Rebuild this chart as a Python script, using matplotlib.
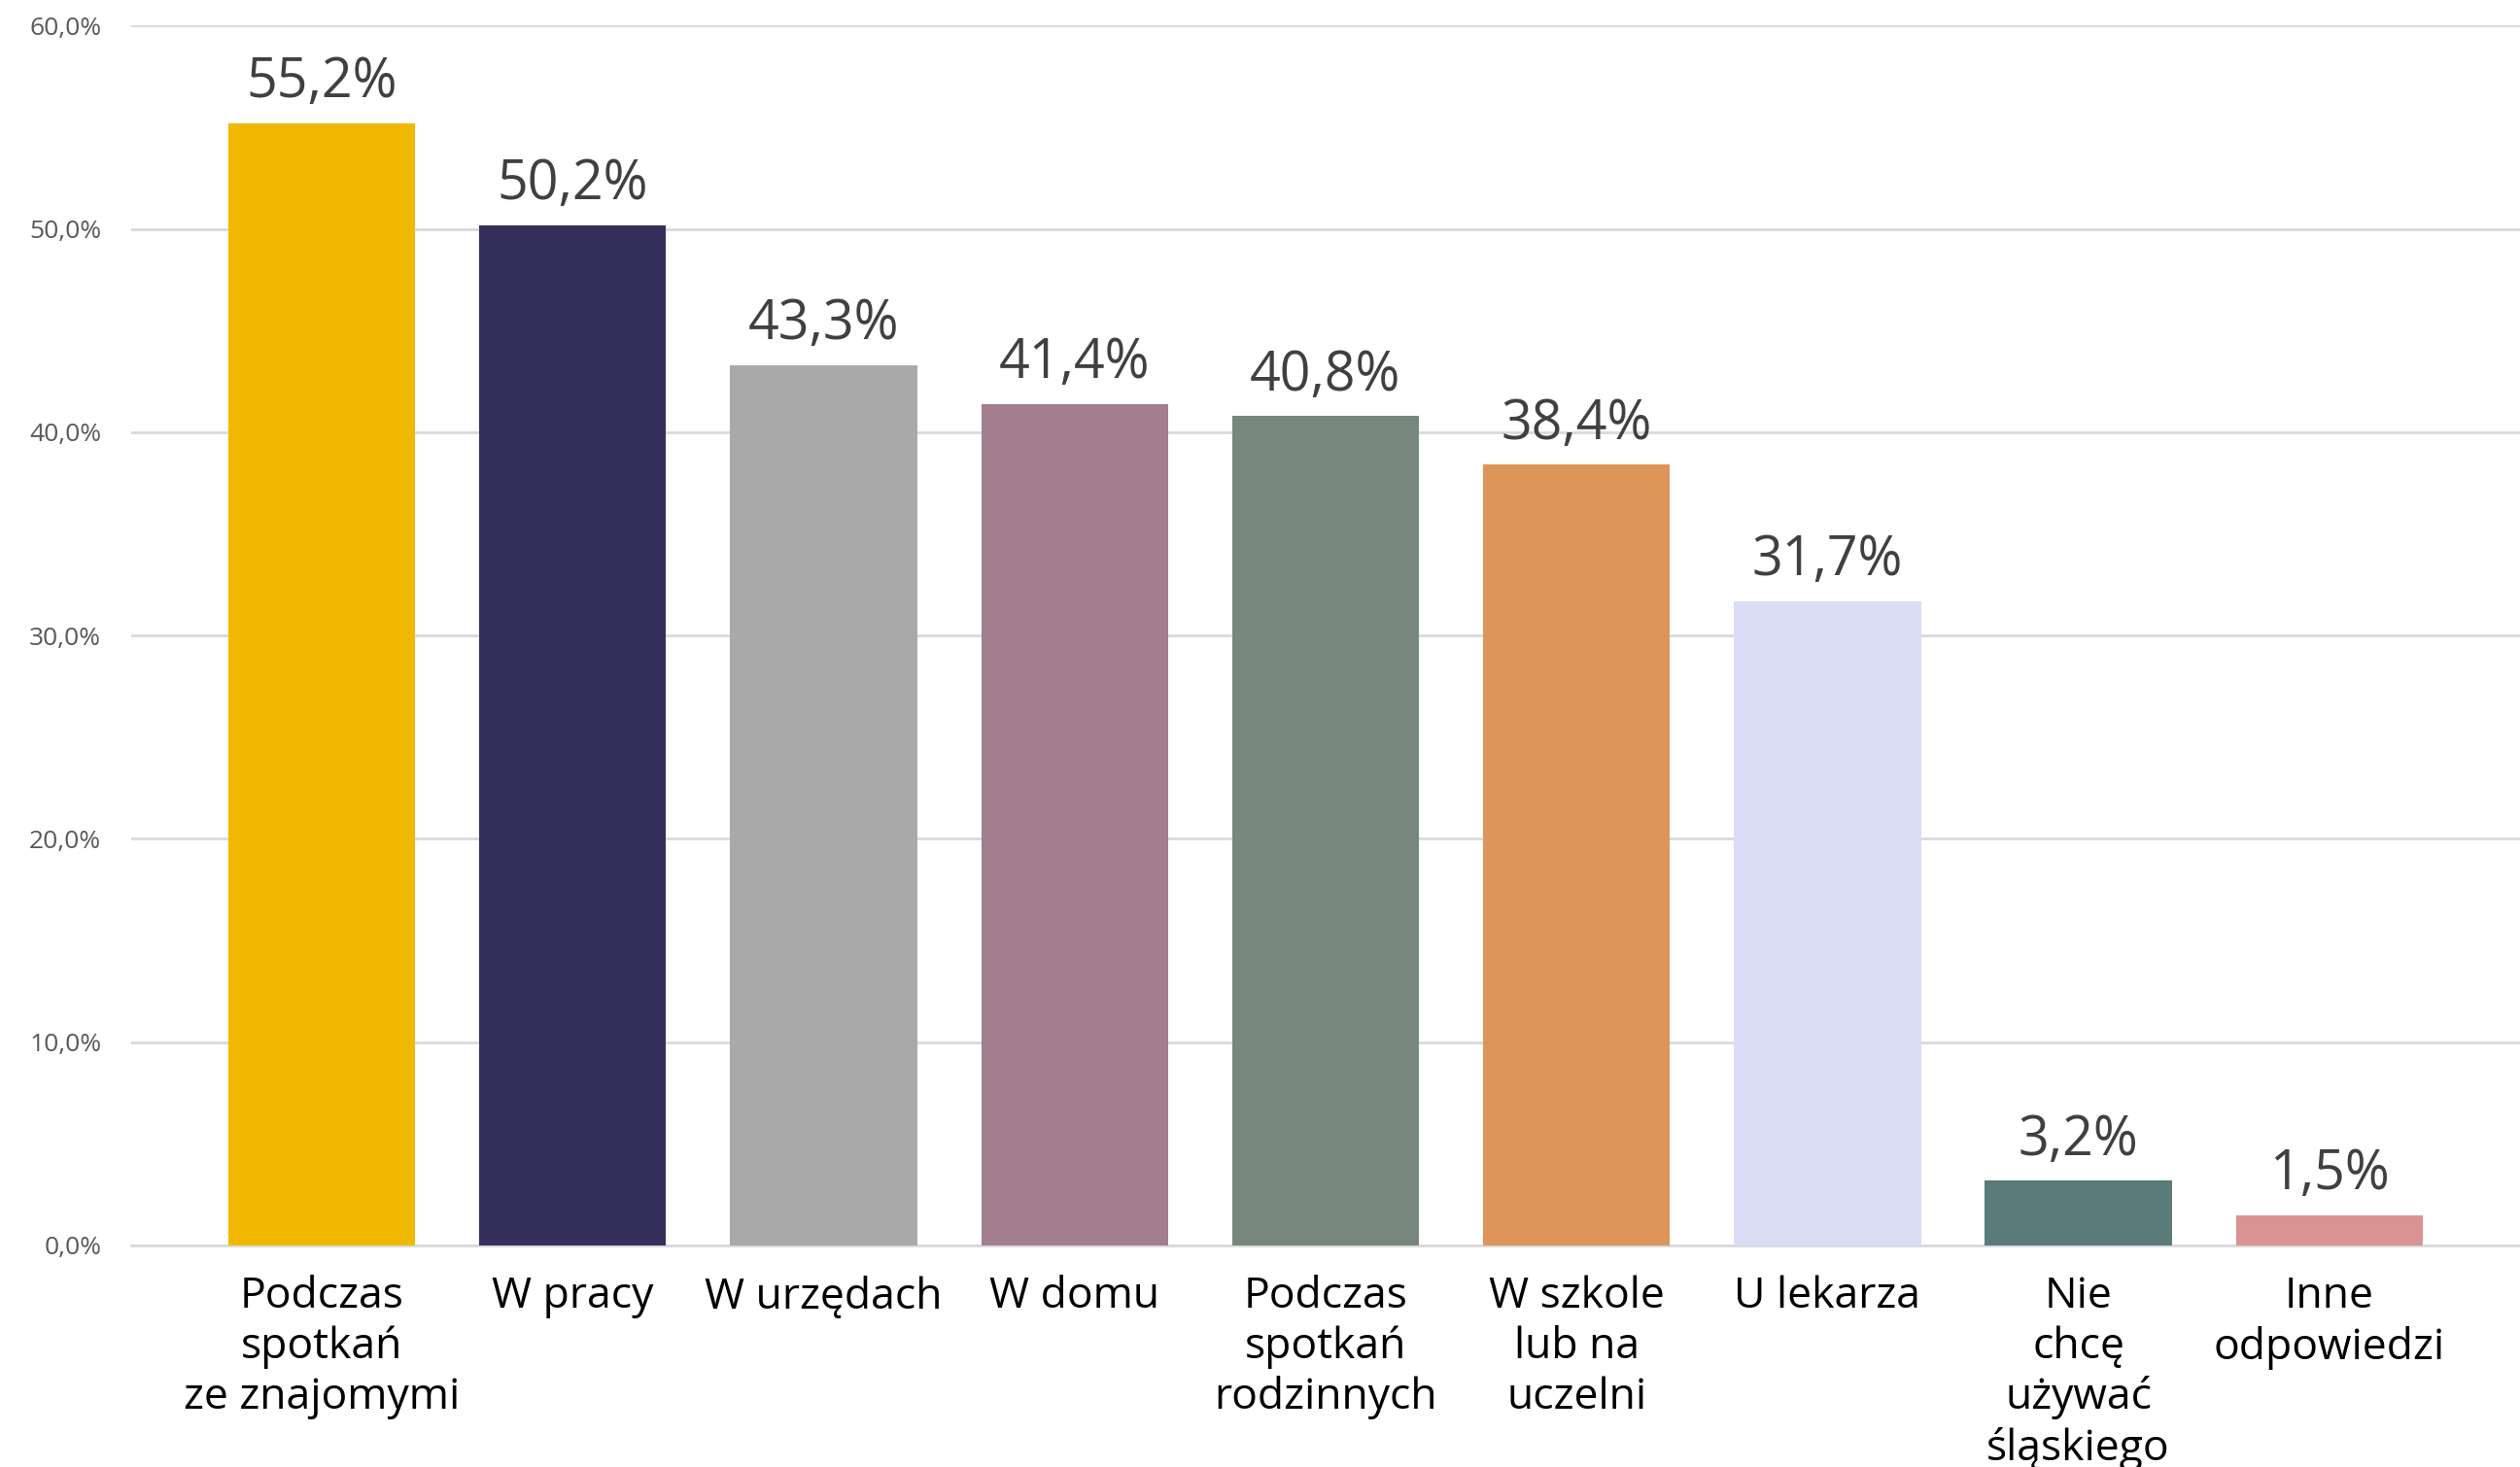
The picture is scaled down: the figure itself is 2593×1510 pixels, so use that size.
import matplotlib
matplotlib.use("Agg")
import matplotlib.pyplot as plt

categories = [
    "Podczas\nspotkań\nze znajomymi",
    "W pracy",
    "W urzędach",
    "W domu",
    "Podczas\nspotkań\nrodzinnych",
    "W szkole\nlub na\nuczelni",
    "U lekarza",
    "Nie\nchcę\nużywać\nśląskiego",
    "Inne\nodpowiedzi",
]
values = [55.2, 50.2, 43.3, 41.4, 40.8, 38.4, 31.7, 3.2, 1.5]
colors = ["#F0B800", "#352F5C", "#A9A9A9", "#A27E8E", "#78877E",
          "#DD955A", "#D9DDF5", "#5A7B77", "#DA9393"]
yticks = [0, 10, 20, 30, 40, 50, 60]

plt.rcParams['font.family'] = ['Open Sans', 'DejaVu Sans']

fig = plt.figure(figsize=(25.93, 15.10), dpi=100)
ax = fig.add_axes([0.052, 0.151, 0.948, 0.8315])

x = list(range(len(values)))
bars = ax.bar(x, values, width=0.745, color=colors, zorder=3)

for b, v in zip(bars, values):
    ax.annotate(f"{v:.1f}%".replace(".", ","),
                (b.get_x() + b.get_width() / 2, v),
                xytext=(0, 9), textcoords="offset points",
                ha="center", va="bottom", fontsize=40, fontweight="medium",
                color="#404040")

ax.set_xlim(-0.76, len(values) - 1 + 0.76)
ax.set_ylim(0, 60)
ax.set_yticks(yticks)
ax.set_yticklabels([f"{t:.1f}%".replace(".", ",") for t in yticks],
                   fontsize=19, color="#595959")
ax.set_xticks(x)
ax.set_xticklabels(categories, fontsize=32, fontweight="medium", color="black",
                   linespacing=1.22, va="top")
ax.tick_params(axis="both", length=0)
ax.tick_params(axis="y", pad=22)
ax.tick_params(axis="x", pad=22)

ax.grid(axis="y", color="#D9D9D9", linewidth=2, zorder=0)
for s in ["top", "right", "left"]:
    ax.spines[s].set_visible(False)
ax.spines["bottom"].set_color("#D9D9D9")
ax.spines["bottom"].set_linewidth(2)

fig.savefig("out.png", dpi=100)
